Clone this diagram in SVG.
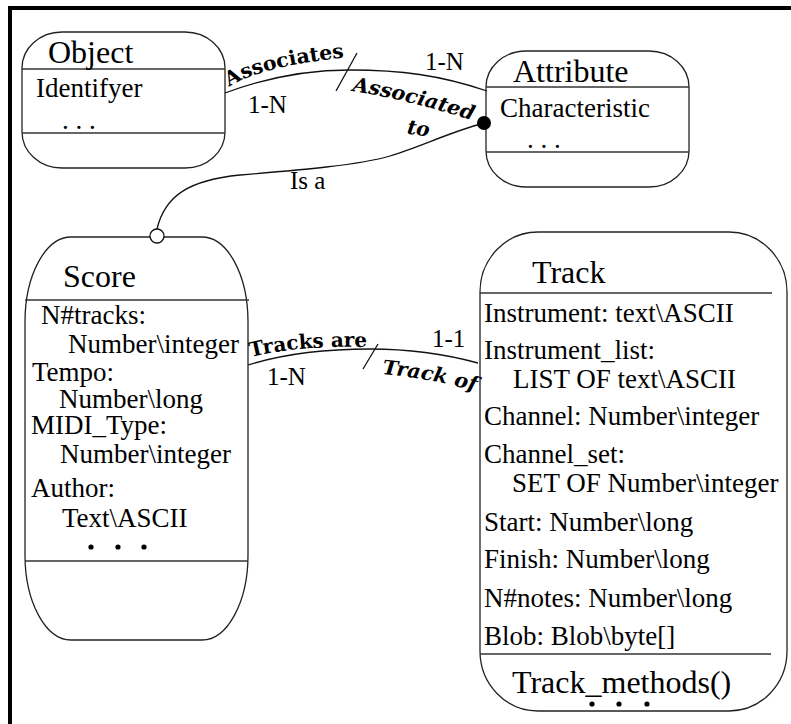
<svg xmlns="http://www.w3.org/2000/svg" width="791" height="724" viewBox="0 0 791 724">
  <style>
    .shape { fill: #fff; stroke: #222; stroke-width: 1.3; }
    .div { stroke: #333; stroke-width: 1.3; fill: none; }
    .wire { fill: none; stroke: #111; stroke-width: 1.3; }
    .title { font-family: "Liberation Serif", "Times New Roman", serif; font-size: 32px; fill: #000; }
    .body { font-family: "Liberation Serif", "Times New Roman", serif; font-size: 27px; fill: #000; }
    .card { font-family: "Liberation Serif", "Times New Roman", serif; font-size: 25px; fill: #000; }
    .role { font-family: "DejaVu Serif", serif; font-weight: bold; font-size: 20px; fill: #000; }
    .role-i { font-family: "DejaVu Serif", serif; font-weight: bold; font-style: italic; font-size: 20px; fill: #000; }
  </style>
  <defs>
    <path id="p-associates" d="M229,87 Q260,66 350,57"/>
    <path id="p-associated" d="M352,91 Q410,100 474,121"/>
    <path id="p-tracks-are" d="M251,357 Q300,345 369,347"/>
    <path id="p-track-of" d="M382,374 Q430,378 478,392"/>
  </defs>

  <rect width="791" height="724" fill="#fff"/>

  <!-- frame: top and left rules -->
  <line x1="8" y1="8" x2="791" y2="8" stroke="#000" stroke-width="4"/>
  <line x1="10" y1="6" x2="10" y2="724" stroke="#000" stroke-width="4"/>

  <!-- Object -->
  <g id="object">
    <rect class="shape" x="22" y="32" width="203" height="136" rx="40" ry="36"/>
    <line class="div" x1="22" y1="69" x2="225" y2="69"/>
    <line class="div" x1="22" y1="133" x2="225" y2="133"/>
    <text class="title" x="48" y="63">Object</text>
    <text class="body" x="36" y="97">Identifyer</text>
    <text class="body" x="62" y="129">. . .</text>
  </g>

  <!-- Attribute -->
  <g id="attribute">
    <rect class="shape" x="486" y="51" width="203" height="136" rx="40" ry="36"/>
    <line class="div" x1="486" y1="87" x2="689" y2="87"/>
    <line class="div" x1="486" y1="152" x2="689" y2="152"/>
    <text class="title" x="513" y="82">Attribute</text>
    <text class="body" x="500" y="117">Characteristic</text>
    <text class="body" x="527" y="148">. . .</text>
  </g>

  <!-- Score -->
  <g id="score">
    <rect class="shape" x="25" y="237" width="223" height="403" rx="46" ry="85"/>
    <line class="div" x1="25" y1="300" x2="249" y2="300"/>
    <line class="div" x1="25" y1="561" x2="248" y2="561"/>
    <text class="title" x="63" y="287">Score</text>
    <text class="body" x="41" y="324">N#tracks:</text>
    <text class="body" x="68" y="353">Number\integer</text>
    <text class="body" x="32" y="381">Tempo:</text>
    <text class="body" x="59" y="408">Number\long</text>
    <text class="body" x="31" y="434">MIDI_Type:</text>
    <text class="body" x="60" y="463">Number\integer</text>
    <text class="body" x="31" y="497">Author:</text>
    <text class="body" x="62" y="527">Text\ASCII</text>
    <circle cx="91" cy="547" r="2.6"/>
    <circle cx="118" cy="547" r="2.6"/>
    <circle cx="144" cy="547" r="2.6"/>
  </g>

  <!-- Track -->
  <g id="track">
    <rect class="shape" x="480" y="232" width="307" height="479" rx="58" ry="60"/>
    <line class="div" x1="480" y1="293" x2="772" y2="293"/>
    <line class="div" x1="480" y1="654" x2="771" y2="654"/>
    <text class="title" x="532" y="283">Track</text>
    <text class="body" x="484" y="322">Instrument: text\ASCII</text>
    <text class="body" x="484" y="359">Instrument_list:</text>
    <text class="body" x="513" y="388">LIST OF text\ASCII</text>
    <text class="body" x="484" y="425">Channel: Number\integer</text>
    <text class="body" x="484" y="463">Channel_set:</text>
    <text class="body" x="512" y="492">SET OF Number\integer</text>
    <text class="body" x="484" y="531">Start: Number\long</text>
    <text class="body" x="484" y="568">Finish: Number\long</text>
    <text class="body" x="484" y="607">N#notes: Number\long</text>
    <text class="body" x="484" y="645">Blob: Blob\byte[]</text>
    <text class="title" x="512" y="693">Track_methods()</text>
    <circle cx="592" cy="704" r="2.6"/>
    <circle cx="619" cy="704" r="2.6"/>
    <circle cx="647" cy="704" r="2.6"/>
  </g>

  <!-- connectors -->
  <g id="connectors">
    <!-- Object / Attribute association -->
    <path class="wire" d="M225,93 C265,78 310,70 350,70 C400,70 440,75 487,91"/>
    <line class="wire" x1="357" y1="53" x2="336" y2="91"/>
    <!-- Score is-a Attribute -->
    <path class="wire" d="M157,229 C165,195 190,180 240,175 C300,170 360,165 390,156 C420,147 450,132 484,123"/>
    <circle cx="484" cy="123" r="7" fill="#000"/>
    <circle cx="157" cy="236" r="7" fill="#fff" stroke="#111" stroke-width="1.3"/>
    <!-- Score / Track association -->
    <path class="wire" d="M248,365 C280,355 320,349 370,349 C410,349 445,354 478,363"/>
    <line class="wire" x1="378" y1="344" x2="363" y2="369"/>

    <text class="role"><textPath href="#p-associates" textLength="120" lengthAdjust="spacingAndGlyphs">Associates</textPath></text>
    <text class="role-i"><textPath href="#p-associated" textLength="124" lengthAdjust="spacingAndGlyphs">Associated</textPath></text>
    <text class="role-i" x="407" y="135" transform="rotate(8 417 130)">to</text>
    <text class="role"><textPath href="#p-tracks-are" textLength="117" lengthAdjust="spacingAndGlyphs">Tracks are</textPath></text>
    <text class="role-i"><textPath href="#p-track-of" textLength="95" lengthAdjust="spacingAndGlyphs">Track of</textPath></text>

    <text class="card" x="248" y="113">1-N</text>
    <text class="card" x="425" y="70">1-N</text>
    <text class="card" x="290" y="189">Is a</text>
    <text class="card" x="267" y="385">1-N</text>
    <text class="card" x="432" y="347">1-1</text>
  </g>
</svg>
